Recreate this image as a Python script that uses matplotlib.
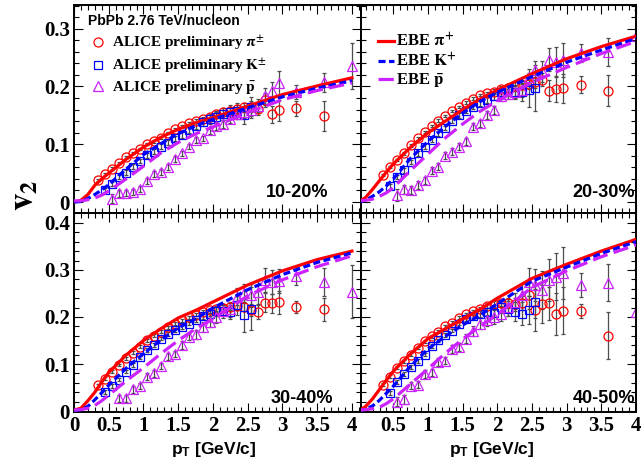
import numpy as np
import matplotlib
matplotlib.use("Agg")
import matplotlib.pyplot as plt
from matplotlib.ticker import MultipleLocator, FuncFormatter
from matplotlib.lines import Line2D
from matplotlib.font_manager import FontProperties

plt.rcParams['font.family'] = ['Liberation Serif', 'DejaVu Serif']
plt.rcParams['font.weight'] = 'bold'
plt.rcParams['mathtext.fontset'] = 'custom'
plt.rcParams['mathtext.rm'] = 'Liberation Sans'
plt.rcParams['mathtext.bf'] = 'Liberation Sans:bold'
plt.rcParams['mathtext.it'] = 'Liberation Sans:italic'

nan = np.nan

# pT bins of the data points
x_pi = [0.35, 0.45, 0.55, 0.65, 0.75, 0.85, 0.95, 1.05, 1.15, 1.25, 1.35, 1.45, 1.55, 1.65, 1.75,
        1.85, 1.95, 2.05, 2.15, 2.25, 2.35, 2.45, 2.55, 2.65, 2.75, 2.85, 2.95, 3.2, 3.6]
x_k = [0.45, 0.55, 0.65, 0.75, 0.85, 0.95, 1.05, 1.15, 1.25, 1.35, 1.45, 1.55, 1.65, 1.75,
       1.85, 1.95, 2.05, 2.15, 2.25, 2.35, 2.45, 2.55]
x_p = [0.55, 0.65, 0.75, 0.85, 0.95, 1.05, 1.15, 1.25, 1.35, 1.45, 1.55, 1.65, 1.75, 1.85,
       1.95, 2.05, 2.15, 2.25, 2.35, 2.45, 2.55, 2.65, 2.75, 2.85, 2.95, 3.2, 3.6, 4.0]
# pT points of the EBE hydro curves
x_ebe = [0.0, 0.1, 0.2, 0.3, 0.4, 0.5, 0.75, 1.0, 1.25, 1.5, 1.75, 2.0, 2.5, 3.0, 3.5, 4.0]

# 10-20%
pi_1020 = [.038, .049, .058, .067, .078, .085, .092, .100, .105, .111, .119, .126, .132, .137, .141,
           .144, .148, .152, .155, .158, .161, .164, .165, .161, .177, .152, .159, .162, .149]
pi_err_1020 = [.002, .002, .002, .002, .002, .002, .002, .002, .002, .002, .002, .002, .002, .002, .003,
               .003, .004, .004, .005, .006, .007, .008, .009, .010, .012, .015, .018, .013, .026]
k_1020 = [.021, .031, .043, .051, .061, .071, .081, .087, .096, .103, .110, .116, .124, .132,
          .138, .143, .148, .152, .156, .158, .151, .164]
k_err_1020 = [.004, .004, .004, .004, .004, .004, .004, .004, .004, .004, .004, .005, .005, .006,
              .007, .008, .009, .010, .012, .014, .016, .018]
p_1020 = [.006, .015, .015, .018, .023, .037, .049, .052, .061, .074, .084, .096, .108, .110,
          .124, .131, .135, .144, .152, .155, .160, .167, .183, .192, .206, .191, .207, .236]
p_err_1020 = [.008, .006, .005, .005, .005, .005, .005, .005, .005, .005, .005, .005, .005, .005,
              .006, .006, .007, .008, .009, .010, .011, .012, .015, .016, .020, .012, .017, .040]
ebe_pi_1020 = [0.0, .003, .013, .029, .040, .050, .074, .095, .112, .126, .137, .146, .166, .186, .201, .215]
ebe_k_1020 = [0.0, .001, .006, .013, .021, .030, .057, .082, .101, .118, .132, .143, .163, .182, .197, .210]
ebe_p_1020 = [.002, .002, .004, .007, .012, .019, .040, .062, .085, .103, .118, .130, .155, .177, .193, .206]

# 20-30%
pi_2030 = [.047, .061, .073, .084, .098, .110, .121, .132, .141, .149, .157, .165, .172, .179, .185,
           .188, .191, .195, .198, .200, .203, .205, .207, .212, .193, .195, .197, .203, .193]
pi_err_2030 = [.002, .002, .002, .002, .002, .002, .002, .002, .002, .002, .002, .002, .002, .002, .002,
               .003, .004, .005, .006, .007, .008, .009, .010, .012, .018, .022, .025, .015, .027]
k_2030 = [.027, .043, .055, .069, .084, .096, .108, .119, .128, .141, .150, .158, .165, .171,
          .177, .183, .190, .194, .190, .190, .194, .198]
k_err_2030 = [.004, .004, .004, .004, .004, .004, .004, .004, .004, .004, .004, .004, .004, .004,
              .005, .006, .008, .010, .012, .015, .030, .040]
p_2030 = [.012, .022, .021, .029, .038, .054, .061, .080, .087, .096, .105, .130, .136, .151,
          .159, .183, .187, .190, .194, .217, .228, .226, .246, .243, .246, .258, .260, .288]
p_err_2030 = [.010, .008, .007, .007, .006, .006, .006, .006, .006, .006, .006, .006, .006, .007,
              .007, .008, .009, .010, .012, .014, .016, .018, .020, .025, .030, .015, .024, .044]
ebe_pi_2030 = [0.0, .008, .022, .037, .052, .066, .095, .120, .140, .160, .178, .194, .222, .248, .269, .287]
ebe_k_2030 = [0.0, .003, .010, .018, .028, .040, .076, .105, .131, .154, .174, .190, .217, .242, .263, .283]
ebe_p_2030 = [.002, .003, .005, .010, .016, .025, .055, .083, .111, .135, .157, .175, .207, .233, .257, .278]

# 30-40%
pi_3040 = [.055, .069, .084, .098, .112, .124, .137, .150, .160, .169, .178, .186, .193, .199, .205,
           .210, .214, .217, .220, .222, .224, .222, .215, .210, .230, .229, .231, .221, .216]
pi_err_3040 = [.003, .003, .003, .003, .003, .003, .003, .003, .003, .003, .003, .003, .003, .003, .003,
               .004, .005, .006, .007, .008, .009, .010, .012, .015, .020, .020, .025, .013, .025]
k_3040 = [.041, .053, .067, .084, .098, .114, .129, .140, .154, .164, .172, .179, .186, .193,
          .202, .206, .212, .213, .210, .225, .204, .218]
k_err_3040 = [.004, .004, .004, .004, .004, .004, .004, .004, .004, .004, .004, .004, .004, .004,
              .006, .008, .010, .012, .015, .020, .035, .045]
p_3040 = [nan, .027, .027, .046, .053, .073, .080, .096, .116, .121, .140, .158, .163, .179,
          .190, .200, .212, .216, .243, .250, .246, .253, .279, .274, .276, .287, .275, .254]
p_err_3040 = [0.0, .008, .008, .007, .007, .007, .007, .007, .007, .007, .008, .008, .009, .010,
              .011, .012, .014, .016, .018, .020, .025, .025, .025, .025, .025, .020, .030, .056]
ebe_pi_3040 = [.002, .006, .022, .040, .062, .082, .119, .150, .175, .198, .214, .232, .268, .298, .322, .340]
ebe_k_3040 = [.001, .003, .010, .024, .039, .055, .091, .122, .151, .177, .196, .219, .258, .290, .316, .336]
ebe_p_3040 = [.002, .003, .006, .012, .022, .034, .064, .092, .122, .150, .175, .196, .245, .279, .307, .330]

# 40-50%
pi_4050 = [.056, .073, .092, .106, .120, .134, .148, .159, .169, .180, .188, .198, .206, .212, .218,
           .224, .227, .229, .230, .228, .229, .247, .215, .228, .229, .206, .213, .213, .160]
pi_err_4050 = [.003, .003, .003, .003, .003, .003, .003, .003, .003, .003, .003, .003, .003, .003, .003,
               .005, .006, .008, .010, .012, .015, .030, .045, .040, .035, .045, .050, .015, .050]
k_4050 = [.039, .061, .079, .093, .106, .120, .139, .150, .161, .171, .186, .196, .201, .206,
          .211, .209, .221, .218, .211, .207, .214, .232]
k_err_4050 = [.004, .004, .004, .004, .004, .004, .004, .004, .004, .004, .004, .004, .005, .006,
              .008, .010, .012, .015, .020, .025, .030, .035]
p_4050 = [.020, .025, .054, .056, .079, .082, .104, .107, .132, .136, .154, .170, .186, .193,
          .200, .207, .221, .232, .246, .275, .268, .257, .279, .286, .293, .268, .273, .211]
p_err_4050 = [.010, .009, .008, .008, .008, .008, .008, .008, .008, .008, .009, .010, .011, .012,
              .014, .016, .018, .020, .025, .030, .035, .040, .045, .050, .055, .025, .040, .090]
ebe_pi_4050 = [0.0, .010, .026, .046, .066, .085, .122, .154, .175, .196, .216, .240, .282, .312, .340, .365]
ebe_k_4050 = [0.0, .004, .011, .023, .038, .053, .096, .132, .159, .183, .204, .228, .276, .306, .335, .360]
ebe_p_4050 = [.002, .003, .005, .008, .016, .026, .058, .090, .123, .153, .180, .205, .263, .298, .328, .353]

labels = ['10-20%', '20-30%', '30-40%', '40-50%']

RED = '#ff0000'
BLUE = '#0000ff'
VIOL = '#cc22ff'

fig = plt.figure(figsize=(6.44, 4.68), dpi=100)
L, M, R = 74 / 644, 361 / 644, 636 / 644
T, MID, B = 1 - 5 / 468, 1 - 213 / 468, 1 - 412 / 468

ax_tl = fig.add_axes([L, MID, M - L, T - MID])
ax_tr = fig.add_axes([M, MID, R - M, T - MID])
ax_bl = fig.add_axes([L, B, M - L, MID - B])
ax_br = fig.add_axes([M, B, R - M, MID - B])

panels = [
    (ax_tl, pi_1020, pi_err_1020, k_1020, k_err_1020, p_1020, p_err_1020, ebe_pi_1020, ebe_k_1020, ebe_p_1020),
    (ax_tr, pi_2030, pi_err_2030, k_2030, k_err_2030, p_2030, p_err_2030, ebe_pi_2030, ebe_k_2030, ebe_p_2030),
    (ax_bl, pi_3040, pi_err_3040, k_3040, k_err_3040, p_3040, p_err_3040, ebe_pi_3040, ebe_k_3040, ebe_p_3040),
    (ax_br, pi_4050, pi_err_4050, k_4050, k_err_4050, p_4050, p_err_4050, ebe_pi_4050, ebe_k_4050, ebe_p_4050),
]

fmt = FuncFormatter(lambda v, pos: '0' if abs(v) < 1e-9 else '%g' % round(v, 2))
line_handles = []

for i, (ax, pi, pie, k, ke, p, pe, epi, ek, ep) in enumerate(panels):
    ebar = dict(ls='none', ecolor='0.3', elinewidth=0.9, capsize=1.5, capthick=0.8, zorder=2)
    ax.errorbar(x_pi, pi, yerr=pie, marker='o', ms=6.5, mfc='none', mec=RED, mew=0.9, **ebar)
    ax.errorbar(x_k, k, yerr=ke, marker='s', ms=6.3, mfc='none', mec=BLUE, mew=0.9, **ebar)
    ax.errorbar(x_p, p, yerr=pe, marker='^', ms=7, mfc='none', mec=VIOL, mew=0.9, **ebar)
    l1, = ax.plot(x_ebe, epi, color=RED, lw=2.3, zorder=3)
    l2, = ax.plot(x_ebe, ek, color=BLUE, lw=2.3, dashes=(2.2, 1.1), zorder=3)
    l3, = ax.plot(x_ebe, ep, color=VIOL, lw=2.3, dashes=(4.8, 2.0), zorder=3)
    line_handles = [l1, l2, l3]

    left = ax in (ax_tl, ax_bl)
    top = ax in (ax_tl, ax_tr)
    ax.set_xlim((0, 4.13) if left else (0.033, 4.0))
    ax.set_ylim((-0.019, 0.341) if top else (-0.002, 0.421))
    ax.xaxis.set_major_locator(MultipleLocator(0.5))
    ax.xaxis.set_minor_locator(MultipleLocator(0.1))
    ax.yaxis.set_major_locator(MultipleLocator(0.1))
    ax.yaxis.set_minor_locator(MultipleLocator(0.02))
    ax.xaxis.set_major_formatter(fmt)
    ax.yaxis.set_major_formatter(fmt)
    ax.tick_params(which='both', direction='in', top=True, right=True, width=0.8,
                   labelsize=15, labelleft=left, labelbottom=not top)
    ax.tick_params(which='major', length=6.5)
    ax.tick_params(which='minor', length=3.5)
    ax.tick_params(axis='x', pad=3)
    ax.tick_params(axis='y', pad=3)
    for s in ax.spines.values():
        s.set_linewidth(1.4)

    if left:
        xr = 0.885 if top else 0.902
    else:
        xr = 0.997
    yr = 0.10 if top else 0.07
    ax.text(xr, yr, labels[i], transform=ax.transAxes, ha='right', va='center',
            fontfamily='Liberation Sans', fontweight='bold', fontsize=13)

    if not top:
        ax.text(0.488 if left else 0.476, -0.19, r'$\mathbf{p}_\mathbf{T}$ [GeV/c]',
                transform=ax.transAxes, ha='center', va='center',
                fontfamily='Liberation Sans', fontweight='bold', fontsize=12.5)

# legends
ax_tl.text(0.049, 0.923, 'PbPb 2.76 TeV/nucleon', transform=ax_tl.transAxes, ha='left', va='center',
           fontfamily='Liberation Sans', fontweight='bold', fontsize=10)
mk = [Line2D([], [], ls='none', marker='o', ms=6.5, mfc='none', mec=RED, mew=0.9),
      Line2D([], [], ls='none', marker='s', ms=6.3, mfc='none', mec=BLUE, mew=0.9),
      Line2D([], [], ls='none', marker='^', ms=7, mfc='none', mec=VIOL, mew=0.9)]
leg_font = FontProperties(family='Liberation Serif', weight='bold', size=11, math_fontfamily='stix')
ax_tl.legend(mk, [r'ALICE preliminary $\mathbf{\pi^{\pm}}$', r'ALICE preliminary $\mathbf{K^{\pm}}$',
                  r'ALICE preliminary $\mathbf{\bar{p}}$'],
             loc='upper left', bbox_to_anchor=(0.056, 0.861), borderaxespad=0, borderpad=0,
             frameon=False, prop=leg_font, handlelength=1.0, handletextpad=0.45, labelspacing=0.3)

leg_font2 = FontProperties(family='Liberation Serif', weight='bold', size=12, math_fontfamily='stix')
ax_tr.legend(line_handles, [r'EBE $\mathbf{\pi^{+}}$', r'EBE $\mathbf{K^{+}}$', r'EBE $\mathbf{\bar{p}}$'],
             loc='upper left', bbox_to_anchor=(0.062, 0.868), borderaxespad=0, borderpad=0,
             frameon=False, prop=leg_font2, handlelength=0.95, handletextpad=0.1, labelspacing=0.1)

fig.text(0.038, 0.583, r'$\mathbf{v}_\mathbf{2}$', rotation=90, ha='center', va='center',
         fontsize=25, math_fontfamily='stix')

fig.savefig('out.png', dpi=100)
